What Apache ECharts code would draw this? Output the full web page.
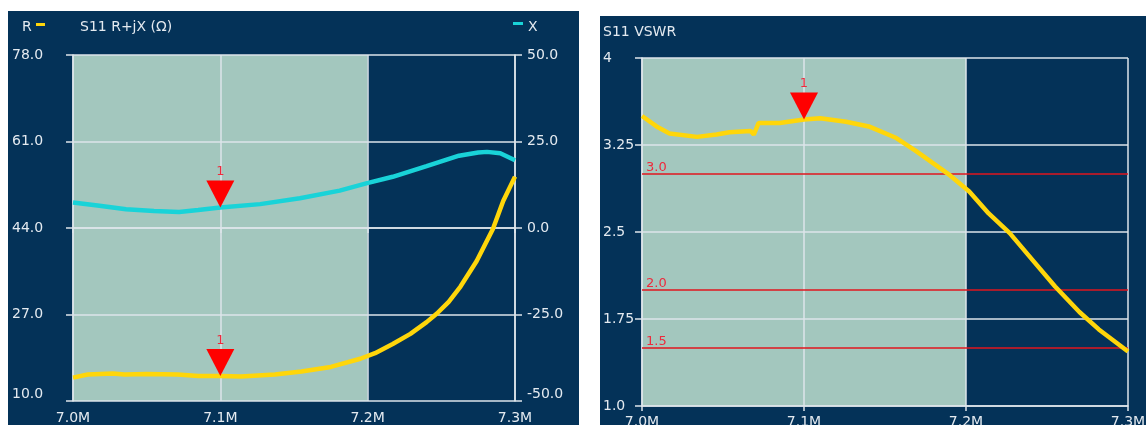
<!DOCTYPE html>
<html><head><meta charset="utf-8">
<script src="https://cdn.jsdelivr.net/npm/echarts@6/dist/echarts.min.js"></script>
<style>
html,body{margin:0;padding:0;background:#fff;width:1146px;height:425px;overflow:hidden;}
#left{position:absolute;left:8px;top:11px;width:571px;height:414px;}
#right{position:absolute;left:600px;top:16px;width:546px;height:409px;}
</style></head><body>
<div id="left"></div><div id="right"></div>
<script>
// ---- data ----
const freqLabels = ['7.0M', '7.1M', '7.2M', '7.3M'];
const rxTitle = 'S11 R+jX (Ω)';
const vswrTitle = 'S11 VSWR';
const rLeftLabels = ['10.0', '27.0', '44.0', '61.0', '78.0'];
const xRightLabels = ['-50.0', '-25.0', '0.0', '25.0', '50.0'];
const vswrLabels = ['1.0', '1.75', '2.5', '3.25', '4'];
const markerFreq = 7.1;
const markerName = '1';
const shadeRange = [7.0, 7.2];
const vswrThresholds = [3.0, 2.0, 1.5];

const rFreq   = [7.000, 7.010, 7.027, 7.035, 7.050, 7.071, 7.085, 7.100, 7.114, 7.137, 7.155, 7.175, 7.195, 7.205, 7.217, 7.229, 7.240, 7.247, 7.255, 7.263, 7.274, 7.285, 7.292, 7.300];
const rValues = [14.6, 15.2, 15.4, 15.2, 15.3, 15.2, 14.9, 14.9, 14.8, 15.2, 15.8, 16.7, 18.3, 19.4, 21.2, 23.2, 25.5, 27.2, 29.5, 32.5, 37.5, 43.8, 49.3, 54.1];

const xFreq   = [7.000, 7.018, 7.036, 7.055, 7.072, 7.085, 7.100, 7.127, 7.154, 7.181, 7.199, 7.217, 7.240, 7.262, 7.275, 7.281, 7.290, 7.300];
const xValues = [7.4, 6.4, 5.4, 4.9, 4.6, 5.2, 5.9, 6.9, 8.6, 10.8, 12.9, 14.8, 17.9, 20.9, 21.8, 22.0, 21.6, 19.6];

const vFreq   = [7.000, 7.009, 7.017, 7.034, 7.046, 7.054, 7.067, 7.069, 7.072, 7.085, 7.100, 7.110, 7.126, 7.140, 7.157, 7.169, 7.190, 7.202, 7.214, 7.227, 7.241, 7.255, 7.270, 7.282, 7.300];
const vValues = [3.50, 3.41, 3.35, 3.32, 3.34, 3.36, 3.37, 3.34, 3.44, 3.44, 3.47, 3.48, 3.45, 3.41, 3.31, 3.20, 2.99, 2.85, 2.66, 2.49, 2.26, 2.03, 1.81, 1.66, 1.47];

// ---- style ----
const BG = '#043258', SHADE = '#A3C7BE', GRID = '#DDE5EA', TXT = '#E4EAF0';
const YEL = '#FFD60A', CY = '#19D3D8', RED = '#FF0000', RLINE = '#E0161E', RTXT = '#EE2A3C';
const FONT = 'DejaVu Sans';

const zip = (a, b) => a.map((v, i) => [v, b[i]]);
const valAt = (fs, vs, f) => vs[fs.findIndex(x => Math.abs(x - f) < 1e-9)];

function xAxisCfg(margin) {
  return {
    type: 'value', min: 7.0, max: 7.3, interval: 0.1, z: 2,
    axisLine: { show: true, lineStyle: { color: GRID, width: 1.5 } },
    axisTick: { show: true, length: 5, lineStyle: { color: GRID, width: 1.5 } },
    splitLine: { show: true, lineStyle: { color: GRID, width: 1.5 } },
    axisLabel: { color: TXT, fontFamily: FONT, fontSize: 14, margin: margin,
      formatter: v => freqLabels[Math.round((v - 7.0) * 10)] }
  };
}
function markTri(coord) {
  return {
    z: 6,
    symbol: 'path://M0,0L20,0L10,20Z', symbolSize: [28, 27], symbolOffset: [0, -13.5],
    itemStyle: { color: RED },
    label: { show: true, position: 'top', formatter: markerName, color: RTXT, fontSize: 13, fontFamily: FONT, distance: 2 },
    data: [{ coord: coord }]
  };
}
function shadeSeries() {
  return {
    type: 'line', data: [[shadeRange[0], null]], z: 0, silent: true, showSymbol: false,
    lineStyle: { width: 0 },
    markArea: { z: 0, silent: true, itemStyle: { color: SHADE, opacity: 1 },
      data: [[{ xAxis: shadeRange[0] }, { xAxis: shadeRange[1] }]] }
  };
}

const left = echarts.init(document.getElementById('left'));
left.setOption({
  animation: false, backgroundColor: BG,
  grid: { left: 65, top: 44, right: 64, bottom: 24, containLabel: false, outerBoundsMode: 'none' },
  xAxis: xAxisCfg(10),
  yAxis: [
    { type: 'value', position: 'left', min: 10, max: 78, interval: 17, z: 2,
      axisLine: { show: true, lineStyle: { color: GRID, width: 1.5 } },
      axisTick: { show: true, length: 7, lineStyle: { color: GRID, width: 1.5 } },
      splitLine: { show: true, lineStyle: { color: GRID, width: 1.5 } },
      axisLabel: { color: TXT, fontFamily: FONT, fontSize: 14, align: 'left', margin: 61,
        verticalAlignMinLabel: 'bottom',
        formatter: v => rLeftLabels[Math.round((v - 10) / 17)] } },
    { type: 'value', position: 'right', min: -50, max: 50, interval: 25, z: 2,
      axisLine: { show: true, lineStyle: { color: GRID, width: 1.5 } },
      axisTick: { show: true, length: 7, lineStyle: { color: GRID, width: 1.5 } },
      splitLine: { show: false },
      axisLabel: { color: TXT, fontFamily: FONT, fontSize: 14, align: 'left', margin: 12,
        verticalAlignMinLabel: 'bottom',
        formatter: v => xRightLabels[Math.round((v + 50) / 25)] } }
  ],
  graphic: [
    { type: 'text', x: 14, y: 16, style: { text: 'R', fill: TXT, font: '14px "DejaVu Sans"', verticalAlign: 'middle' } },
    { type: 'rect', shape: { x: 28, y: 12, width: 9, height: 3 }, style: { fill: YEL } },
    { type: 'text', x: 72, y: 16, style: { text: rxTitle, fill: TXT, font: '14px "DejaVu Sans"', verticalAlign: 'middle' } },
    { type: 'rect', shape: { x: 505, y: 11, width: 10, height: 3 }, style: { fill: CY } },
    { type: 'text', x: 520, y: 16, style: { text: 'X', fill: TXT, font: '14px "DejaVu Sans"', verticalAlign: 'middle' } }
  ],
  series: [
    shadeSeries(),
    { name: 'R', type: 'line', yAxisIndex: 0, z: 4, showSymbol: false, symbol: 'none',
      data: zip(rFreq, rValues), lineStyle: { color: YEL, width: 4.5 },
      markPoint: markTri([markerFreq, valAt(rFreq, rValues, markerFreq)]) },
    { name: 'X', type: 'line', yAxisIndex: 1, z: 4, showSymbol: false, symbol: 'none',
      data: zip(xFreq, xValues), lineStyle: { color: CY, width: 4.5 },
      markPoint: markTri([markerFreq, valAt(xFreq, xValues, markerFreq)]) }
  ]
});

const right = echarts.init(document.getElementById('right'));
right.setOption({
  animation: false, backgroundColor: BG,
  grid: { left: 42, top: 42, right: 18, bottom: 19, containLabel: false, outerBoundsMode: 'none' },
  xAxis: xAxisCfg(9),
  yAxis: { type: 'value', min: 1, max: 4, interval: 0.75, z: 2,
    axisLine: { show: true, lineStyle: { color: GRID, width: 1.5 } },
    axisTick: { show: true, length: 7, lineStyle: { color: GRID, width: 1.5 } },
    splitLine: { show: true, lineStyle: { color: GRID, width: 1.5 } },
    axisLabel: { color: TXT, fontFamily: FONT, fontSize: 14, align: 'left', margin: 39,
      formatter: v => vswrLabels[Math.round((v - 1) / 0.75)] } },
  graphic: [
    { type: 'text', x: 3, y: 16, style: { text: vswrTitle, fill: TXT, font: '14px "DejaVu Sans"', verticalAlign: 'middle' } }
  ],
  series: [
    shadeSeries(),
    { name: 'VSWR', type: 'line', z: 4, showSymbol: false, symbol: 'none',
      data: zip(vFreq, vValues), lineStyle: { color: YEL, width: 4.5 },
      markPoint: markTri([markerFreq, valAt(vFreq, vValues, markerFreq)]),
      markLine: { z: 3, silent: true, symbol: ['none', 'none'],
        lineStyle: { color: RLINE, width: 1.5, type: 'solid' },
        label: { position: 'insideStartTop', color: RTXT, fontSize: 13, fontFamily: FONT, distance: [4, 0] },
        data: vswrThresholds.map(t => ({ yAxis: t, label: { formatter: t.toFixed(1) } })) } }
  ]
});
</script>
</body></html>
